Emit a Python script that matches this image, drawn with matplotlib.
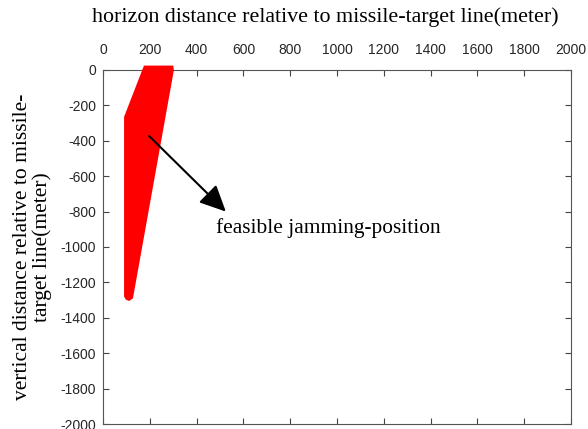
import matplotlib
matplotlib.use("Agg")
import matplotlib.pyplot as plt

plt.rcParams["axes.unicode_minus"] = False

# feasible jamming region outline (meters)
region_x = [175, 300, 303, 128, 112, 98, 90, 90]
region_y = [25, 25, 0, -1290, -1305, -1298, -1280, -265]

x_ticks = list(range(0, 2001, 200))
y_ticks = list(range(-2000, 1, 200))

arrow_start = (197, -373)
arrow_end = (525, -800)
note_pos = (483, -893)
note_text = "feasible jamming-position"

xlabel = "horizon distance relative to missile-target line(meter)"
ylabel = "vertical distance relative to missile-\ntarget line(meter)"

fig = plt.figure(figsize=(5.88, 4.29), dpi=100)
ax = fig.add_axes([103/588, 1-424/429, (571-103)/588, (424-70)/429])

ax.fill(region_x, region_y, color="#ff0000", lw=0, clip_on=False, zorder=3)

ax.set_xlim(0, 2000)
ax.set_ylim(-2000, 0)
ax.set_xticks(x_ticks)
ax.set_yticks(y_ticks)
ax.xaxis.tick_top()
ax.xaxis.set_label_position("top")
ax.tick_params(axis="both", direction="in", length=4, width=0.8, color="#444444",
               labelsize=10, labelcolor="#262626", top=True, bottom=True,
               left=True, right=True, labelbottom=False, labeltop=True)
ax.tick_params(axis="x", pad=9)
ax.tick_params(axis="y", pad=5)
for lab in ax.get_xticklabels() + ax.get_yticklabels():
    lab.set_fontfamily("Liberation Sans")
for sp in ax.spines.values():
    sp.set_color("#555555")
    sp.set_linewidth(0.8)

serif = "Liberation Serif"
ax.set_xlabel(xlabel, fontfamily=serif, fontsize=15.8)
ax.xaxis.label.set_va("center")
ax.xaxis.set_label_coords(0.475, (424 - 17) / 354)
ax.set_ylabel(ylabel, fontfamily=serif, fontsize=15.5, labelpad=6,
              linespacing=1.0)

ax.annotate("", xy=arrow_end, xytext=arrow_start,
            arrowprops=dict(arrowstyle="-|>,head_length=0.8,head_width=0.38",
                            mutation_scale=20, color="black", lw=1.5,
                            shrinkA=0, shrinkB=0), zorder=4)
ax.text(note_pos[0], note_pos[1], note_text, fontfamily=serif, fontsize=15.4,
        va="center", ha="left")

fig.savefig("out.png", dpi=100)
